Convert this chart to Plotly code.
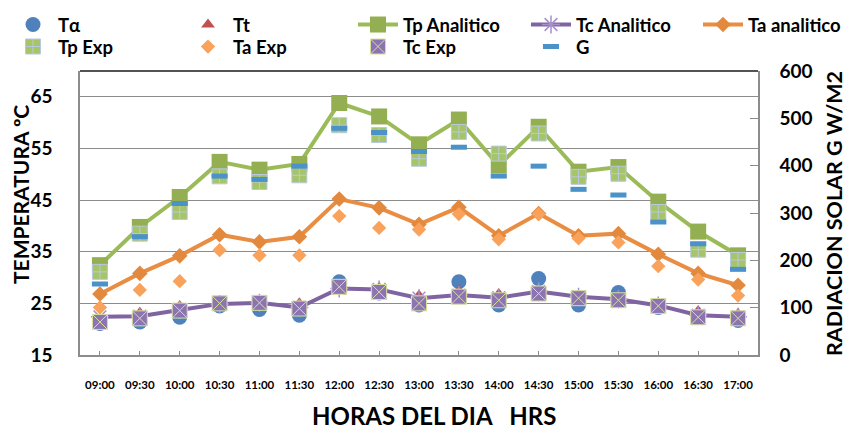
import plotly.graph_objects as go

horas = ["09:00", "09:30", "10:00", "10:30", "11:00", "11:30", "12:00", "12:30", "13:00",
         "13:30", "14:00", "14:30", "15:00", "15:30", "16:00", "16:30", "17:00"]

t_alpha = [21.1, 21.4, 22.3, 24.5, 23.8, 22.7, 29.2, 27.0, 24.7, 29.2, 24.7, 29.8, 24.7, 27.1, 24.2, 22.4, 21.7]
t_t = [22.0, 23.2, 24.5, 25.5, 25.5, 25.0, 27.8, 28.0, 26.5, 27.5, 26.8, 27.3, 26.5, 26.0, 25.0, 23.5, 23.0]
tp_analitico = [32.4, 39.8, 45.6, 52.4, 50.9, 52.0, 63.8, 61.2, 55.8, 60.6, 51.7, 59.2, 50.5, 51.4, 44.7, 38.9, 34.3]
tc_analitico = [22.4, 22.5, 23.7, 24.9, 25.1, 24.2, 27.9, 27.7, 26.0, 26.6, 26.1, 27.3, 26.3, 25.8, 24.6, 22.7, 22.4]
ta_analitico = [26.8, 30.8, 34.2, 38.3, 36.9, 37.9, 45.2, 43.5, 40.3, 43.6, 38.1, 42.4, 38.1, 38.5, 34.5, 30.8, 28.5]
tp_exp = [31.1, 38.5, 42.7, 49.6, 48.5, 49.8, 59.5, 57.6, 53.0, 58.2, 54.0, 57.9, 49.5, 50.1, 42.7, 35.4, 33.4]
ta_exp = [24.2, 27.6, 29.3, 35.3, 34.3, 34.3, 41.9, 39.6, 39.3, 42.3, 37.4, 42.3, 37.6, 36.8, 32.2, 29.6, 26.5]
tc_exp = [21.4, 22.1, 23.6, 25.0, 25.1, 24.0, 28.2, 27.2, 25.0, 26.3, 25.6, 26.9, 26.0, 25.6, 24.5, 22.3, 22.1]
g_rad = [150, 250, 320, 378, 371, 399, 479, 470, 430, 439, 378, 399, 350, 338, 281, 235, 181]

W, H = 850, 431
ML, MR, MT, MB = 80, 92, 71, 76
PW, PH = W - ML - MR, H - MT - MB
FONT = "Lato"
GRAY = "#8c8c8c"
NB = "\u00a0"


def px_to_paper(px, py):
    return (px - ML) / PW, (H - MB - py) / PH


fig = go.Figure()

fig.add_trace(go.Scatter(x=horas, y=t_alpha, name="Tα", mode="markers",
                         marker=dict(symbol="circle", size=15, color="#4F81BD"),
                         legend="legend"))
fig.add_trace(go.Scatter(x=horas, y=t_t, name="Tt", mode="markers",
                         marker=dict(symbol="triangle-up", size=12, color="#C0504D"),
                         legend="legend2"))
fig.add_trace(go.Scatter(x=horas, y=tp_analitico, name="Tp Analitico", mode="lines+markers",
                         line=dict(color="#9BBB59", width=4),
                         marker=dict(symbol="square", size=16, color="#93AF52"),
                         legend="legend3"))
fig.add_trace(go.Scatter(x=horas, y=tc_analitico, name="Tc Analitico", mode="lines+markers",
                         line=dict(color="#8064A2", width=4),
                         marker=dict(symbol="asterisk-open", size=15, color="#A590CC",
                                     line=dict(color="#A590CC", width=1.5)),
                         legend="legend4"))
fig.add_trace(go.Scatter(x=horas, y=ta_analitico, name="Ta analitico", mode="lines+markers",
                         line=dict(color="#E88D42", width=4),
                         marker=dict(symbol="diamond", size=12, color="#E3893E"),
                         legend="legend5"))
fig.add_trace(go.Scatter(x=horas, y=tp_exp, name="Tp Exp", mode="markers",
                         marker=dict(symbol="square-cross", size=15, color="#A6C568",
                                     line=dict(color="#B9C8E0", width=1)),
                         legend="legend6"))
fig.add_trace(go.Scatter(x=horas, y=ta_exp, name="Ta Exp", mode="markers",
                         marker=dict(symbol="diamond", size=11, color="#F9A25B"),
                         legend="legend7"))
fig.add_trace(go.Scatter(x=horas, y=tc_exp, name="Tc Exp", mode="markers",
                         marker=dict(symbol="square-x", size=15, color="#8C74B2",
                                     line=dict(color="#D6DFA0", width=1)),
                         legend="legend8"))
fig.add_trace(go.Scatter(x=horas, y=g_rad, name="G", mode="markers", yaxis="y2",
                         marker=dict(symbol="line-ew-open", size=11.5, color="#4A92C8",
                                     line=dict(color="#4A92C8", width=5)),
                         legend="legend9"))

# legend placement: (legend id, text start x px, row center y px)
legend_pos = [("legend", 55, 23), ("legend2", 230, 23), ("legend3", 400, 23),
              ("legend4", 573, 23), ("legend5", 745, 23),
              ("legend6", 55, 45), ("legend7", 230, 45), ("legend8", 400, 45),
              ("legend9", 573, 45)]
legend_font = dict(family=FONT, size=18.5, color="#000000", weight="bold")
legend_layouts = {}
for lid, tx, ty in legend_pos:
    legend_layouts[lid] = dict(
        xref="container", yref="container",
        x=(tx - 47) / W, y=1 - (ty + 2) / H, xanchor="left", yanchor="middle",
        orientation="h", itemwidth=40, font=legend_font,
        bgcolor="rgba(0,0,0,0)", borderwidth=0, itemclick=False,
    )

xt_x, xt_y = px_to_paper(434, 415)
lt_x, lt_y = px_to_paper(20, 195)
rt_x, rt_y = px_to_paper(834, 214)

fig.update_layout(
    width=W, height=H,
    margin=dict(l=ML, r=MR, t=MT, b=MB, autoexpand=False),
    paper_bgcolor="white", plot_bgcolor="white",
    font=dict(family=FONT, color="#000000"),
    showlegend=True,
    **legend_layouts,
    xaxis=dict(
        type="category", range=[-0.5, 16.5],
        showline=True, linecolor=GRAY, linewidth=1.5,
        ticks="inside", ticklen=4, tickcolor=GRAY, tickwidth=1,
        showgrid=False, zeroline=False,
        tickfont=dict(family=FONT, size=11.5, weight="bold"),
        ticklabelstandoff=18,
    ),
    yaxis=dict(
        range=[15, 70], tickvals=[15, 25, 35, 45, 55, 65],
        showline=True, linecolor=GRAY, linewidth=1.5,
        showgrid=True, gridcolor=GRAY, gridwidth=1.2,
        zeroline=False, ticks="",
        tickfont=dict(family=FONT, size=19, weight="bold"),
        ticklabelstandoff=22,
    ),
    yaxis2=dict(
        overlaying="y", side="right", range=[0, 600], dtick=100,
        showline=True, linecolor=GRAY, linewidth=1.5,
        showgrid=False, zeroline=False,
        ticks="inside", ticklen=8, tickcolor=GRAY,
        tickfont=dict(family=FONT, size=19, weight="bold"),
        ticklabelstandoff=16,
    ),
    annotations=[
        dict(text="HORAS DEL DIA" + NB * 3 + "HRS", xref="paper", yref="paper",
             x=xt_x, y=xt_y, xanchor="center", yanchor="middle",
             showarrow=False, font=dict(family=FONT, size=24, weight="bold", color="#000000")),
        dict(text="TEMPERATURA ºC", xref="paper", yref="paper",
             x=lt_x, y=lt_y, xanchor="center", yanchor="middle", textangle=-90,
             showarrow=False, font=dict(family=FONT, size=21, weight="bold", color="#000000")),
        dict(text="RADIACION SOLAR G W/M2", xref="paper", yref="paper",
             x=rt_x, y=rt_y, xanchor="center", yanchor="middle", textangle=-90,
             showarrow=False, font=dict(family=FONT, size=21.5, weight="bold", color="#000000")),
    ],
    shapes=[dict(type="line", xref="paper", yref="paper", x0=0, x1=1, y0=1, y1=1,
                 line=dict(color="#1a1a1a", width=1.5), layer="above")],
)

fig.write_html("out.html", config={"displayModeBar": False},
               post_script="document.body.style.margin='0px';document.body.style.overflow='hidden';")
